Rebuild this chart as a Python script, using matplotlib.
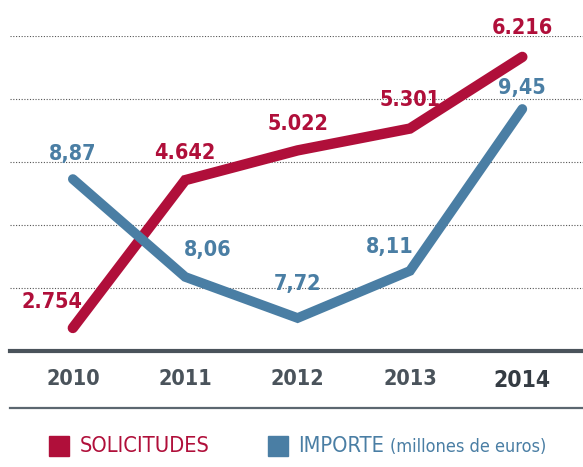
import matplotlib
matplotlib.use('Agg')
import matplotlib.pyplot as plt
from matplotlib.patches import Rectangle
from matplotlib.lines import Line2D
from matplotlib.ticker import LinearLocator

years = ['2010', '2011', '2012', '2013', '2014']
solicitudes = [2754, 4642, 5022, 5301, 6216]
importe = [8.87, 8.06, 7.72, 8.11, 9.45]
sol_labels = ['2.754', '4.642', '5.022', '5.301', '6.216']
imp_labels = ['8,87', '8,06', '7,72', '8,11', '9,45']

RED = '#B00F3A'
BLUE = '#4A7EA4'
GREY = '#4A535B'

plt.rcParams['font.family'] = ['DejaVu Sans']
plt.rcParams['font.stretch'] = 'condensed'

fig = plt.figure(figsize=(5.83, 4.67), dpi=100)
ax = fig.add_axes([0.017, 0.2484, 0.983, 0.6745])
ax2 = ax.twinx()

x = list(range(len(years)))
ax.set_xlim(-0.56, 4.54)
ax.set_ylim(2460, 6483)
ax2.set_ylim(7.447, 10.054)

# dotted grid
ax.yaxis.set_major_locator(LinearLocator(6))
ax.grid(axis='y', linestyle=(0, (1, 1.5)), color='#555555', linewidth=0.8)
ax.tick_params(axis='y', left=False, labelleft=False)
ax2.tick_params(axis='y', right=False, labelright=False)
for a in (ax, ax2):
    for s in ('top', 'right', 'left', 'bottom'):
        a.spines[s].set_visible(False)
ax.axhline(ax.get_ylim()[0], color=GREY, linewidth=3, clip_on=False)

ax.plot(x, solicitudes, color=RED, linewidth=7.5, solid_capstyle='round',
        solid_joinstyle='miter', zorder=3)
ax2.plot(x, importe, color=BLUE, linewidth=7, solid_capstyle='round',
         solid_joinstyle='miter', zorder=3)

sol_off = [(-21, 26), (0, 27), (0, 26), (0, 29), (0, 29)]
imp_off = [(0, 25), (22, 27), (0, 34), (-20, 24), (0, 21)]
for i in x:
    ax.annotate(sol_labels[i], (x[i], solicitudes[i]), xytext=sol_off[i],
                textcoords='offset pixels', ha='center', va='center',
                color=RED, fontsize=15.5, fontweight='bold')
    ax2.annotate(imp_labels[i], (x[i], importe[i]), xytext=imp_off[i],
                 textcoords='offset pixels', ha='center', va='center',
                 color=BLUE, fontsize=15.5, fontweight='bold')

ax.set_xticks(x)
ax.set_xticklabels(years)
ax.tick_params(axis='x', length=0, pad=13, labelsize=15.5, labelcolor=GREY)
for lab in ax.get_xticklabels():
    lab.set_fontweight('bold')
    if lab.get_text() == '2014':
        lab.set_color('#353C43')
        lab.set_fontsize(16.5)

# bottom rule
fig.add_artist(Line2D([0.017, 1.0], [1 - 408 / 467] * 2, color='#5C6770',
                      linewidth=1.6))

# legend
ly = 1 - 446 / 467
fig.add_artist(Rectangle((49 / 583, ly - 10 / 467), 20 / 583, 20 / 467,
                         color=RED, transform=fig.transFigure))
fig.text(80 / 583, ly, 'SOLICITUDES', color=RED, fontsize=15.7,
         va='center', ha='left')
fig.add_artist(Rectangle((268 / 583, ly - 10 / 467), 20 / 583, 20 / 467,
                         color=BLUE, transform=fig.transFigure))
fig.text(298 / 583, ly, 'IMPORTE', color=BLUE, fontsize=15.7,
         va='center', ha='left')
fig.text(390 / 583, ly - 1 / 467, '(millones de euros)', color=BLUE,
         fontsize=13, va='center', ha='left')

fig.savefig('out.png', dpi=100)
